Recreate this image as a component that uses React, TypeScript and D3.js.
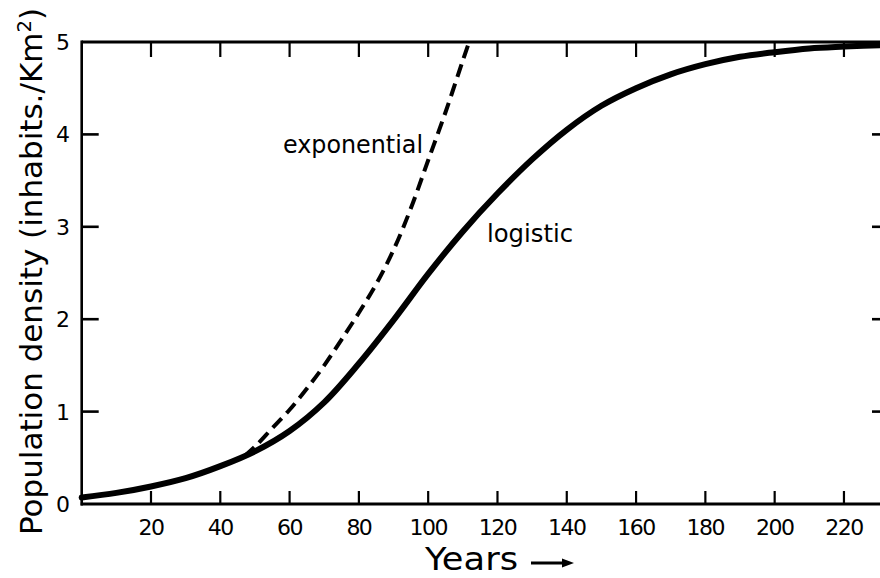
import React from "react";
import * as d3 from "d3";

const years = [0, 10, 20, 30, 40, 50, 60, 70, 80, 90, 100, 110, 120, 130, 140, 150, 160, 170, 180, 190, 200, 210, 220, 233];
const logisticValues = [0.07, 0.12, 0.19, 0.28, 0.41, 0.57, 0.79, 1.1, 1.52, 1.99, 2.49, 2.95, 3.36, 3.73, 4.05, 4.31, 4.5, 4.65, 4.76, 4.84, 4.89, 4.93, 4.95, 4.97];

const expYears = [47, 50, 55, 60, 65, 70, 75, 80, 85, 90, 95, 100, 105, 110, 111.8];
const expValues = [0.52, 0.62, 0.82, 1.02, 1.25, 1.5, 1.78, 2.07, 2.38, 2.75, 3.2, 3.72, 4.24, 4.8, 5.0];

const xTickValues = [20, 40, 60, 80, 100, 120, 140, 160, 180, 200, 220];
const yTickValues = [0, 1, 2, 3, 4, 5];
const yInnerTicks = [1, 2, 3, 4];

const W = 880;
const H = 578;
const FONT = "'DejaVu Sans', sans-serif";

export default function App() {
  const x = d3.scaleLinear().domain([0, 233]).range([81.7, 889]);
  const y = d3.scaleLinear().domain([0, 5]).range([504, 42]);

  const logData = years.map((t, i) => ({ t, v: logisticValues[i] }));
  const expData = expYears.map((t, i) => ({ t, v: expValues[i] }));

  const line = d3
    .line<{ t: number; v: number }>()
    .x((d) => x(d.t))
    .y((d) => y(d.v))
    .curve(d3.curveCatmullRom.alpha(0.5));

  const x0 = x(0);
  const x1 = x(233);
  const yTop = y(5);
  const yBot = y(0);

  return (
    <svg
      width={W}
      height={H}
      viewBox={`0 0 ${W} ${H}`}
      style={{ position: "absolute", left: 0, top: 0, background: "#fff" }}
    >
      <rect x={0} y={0} width={W} height={H} fill="#fff" />
      {/* frame */}
      <line x1={x0} x2={x1 + 2} y1={yTop} y2={yTop} stroke="#000" strokeWidth={3} />
      <line x1={x0 - 1} x2={x1 + 2} y1={yBot} y2={yBot} stroke="#000" strokeWidth={3.2} />
      <line x1={x0} x2={x0} y1={yTop - 1.5} y2={yBot + 1.5} stroke="#000" strokeWidth={2.6} />
      <line x1={x1} x2={x1} y1={yTop - 1.5} y2={yBot + 1.5} stroke="#000" strokeWidth={2.6} />

      {/* x ticks */}
      {xTickValues.map((t) => (
        <g key={"xt" + t}>
          <line x1={x(t)} x2={x(t)} y1={yBot} y2={yBot - 13} stroke="#000" strokeWidth={2.2} />
          <line x1={x(t)} x2={x(t)} y1={yTop} y2={yTop + 15} stroke="#000" strokeWidth={2.2} />
          <text
            x={x(t)}
            y={535}
            textAnchor="middle"
            fontFamily={FONT}
            fontSize={22}
            letterSpacing={-1.5}
            fill="#000"
          >
            {t}
          </text>
        </g>
      ))}

      {/* y ticks */}
      {yInnerTicks.map((v) => (
        <g key={"yt" + v}>
          <line x1={x0} x2={x0 + 17} y1={y(v)} y2={y(v)} stroke="#000" strokeWidth={2.6} />
          <line x1={x1} x2={x1 - 17} y1={y(v)} y2={y(v)} stroke="#000" strokeWidth={2.6} />
        </g>
      ))}
      {yTickValues.map((v) => (
        <text
          key={"yl" + v}
          x={63}
          y={y(v)}
          dy="0.36em"
          textAnchor="middle"
          fontFamily={FONT}
          fontSize={22}
          fill="#000"
        >
          {v}
        </text>
      ))}

      {/* curves */}
      <path d={line(expData) || ""} fill="none" stroke="#000" strokeWidth={4} strokeDasharray="13 7" />
      <path d={line(logData) || ""} fill="none" stroke="#000" strokeWidth={6} strokeLinecap="round" />

      {/* curve labels */}
      <text x={283} y={153} fontFamily={FONT} fontSize={24} textLength={140} lengthAdjust="spacingAndGlyphs" fill="#000">
        exponential
      </text>
      <text x={487} y={242} fontFamily={FONT} fontSize={24} textLength={86} lengthAdjust="spacingAndGlyphs" fill="#000">
        logistic
      </text>

      {/* axis titles */}
      <text
        transform={`translate(42,535) rotate(-90)`}
        x={0}
        y={0}
        fontFamily={FONT}
        fontSize={30}
        textLength={527}
        lengthAdjust="spacingAndGlyphs"
        fill="#000"
      >
        Population density (inhabits./Km
        <tspan dy={-11} fontSize={19}>2</tspan>
        <tspan dy={11}>)</tspan>
      </text>

      <text x={425} y={570} fontFamily={FONT} fontSize={32} textLength={93} lengthAdjust="spacingAndGlyphs" fill="#000">
        Years
      </text>
      <line x1={531} x2={566} y1={563} y2={563} stroke="#000" strokeWidth={3} />
      <polygon points="574,563 562,558.5 562,567.5" fill="#000" />
    </svg>
  );
}
